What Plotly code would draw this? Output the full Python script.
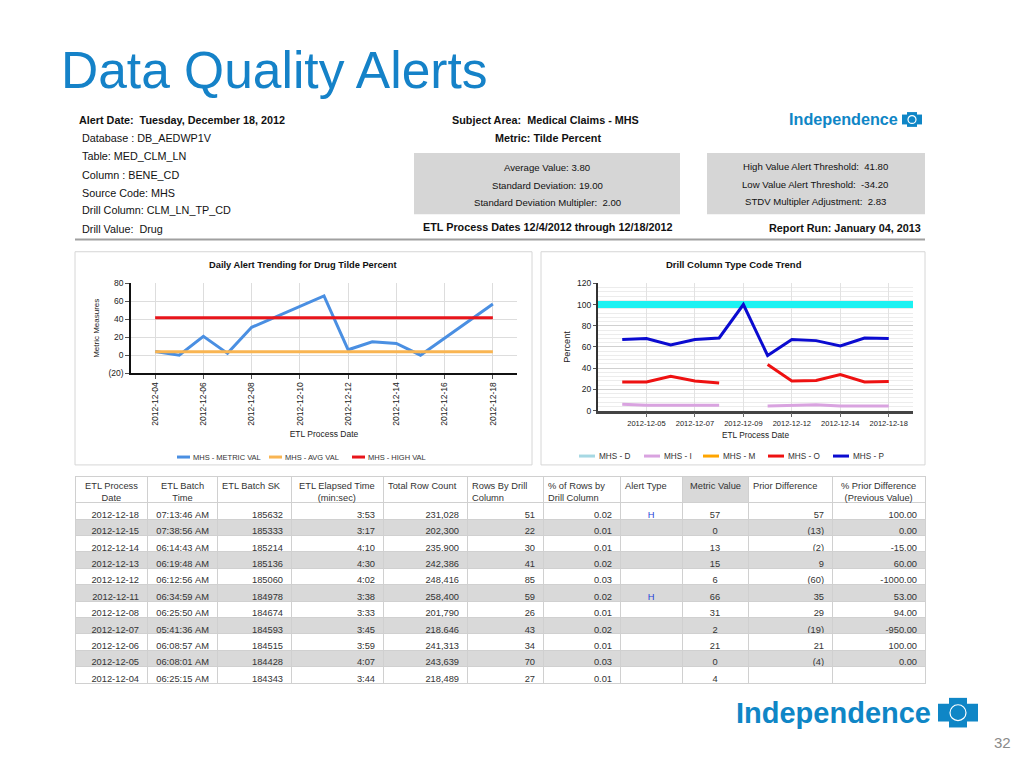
import plotly.graph_objects as go

W, H = 1024, 768
FONT = "Liberation Sans, Arial, Helvetica, sans-serif"


def px(x):
    return x / W


def py(y):
    return 1 - y / H


# ---------------- data ----------------
# Daily alert trending (left chart)
trend_dates = ["2012-12-04", "2012-12-05", "2012-12-06", "2012-12-07", "2012-12-08",
               "2012-12-11", "2012-12-12", "2012-12-13", "2012-12-14", "2012-12-15",
               "2012-12-18"]
trend_metric = [4, 0, 21, 2, 31, 66, 6, 15, 13, 0, 57]
avg_value = 3.80
high_value = 41.80
left_tick_dates = ["2012-12-04", "2012-12-06", "2012-12-08", "2012-12-10",
                   "2012-12-12", "2012-12-14", "2012-12-16", "2012-12-18"]
left_y_ticks = [-20, 0, 20, 40, 60, 80]
left_y_ticktext = ["(20)", "0", "20", "40", "60", "80"]

# Drill column type code trend (right chart, one slot per process date)
drill_dates = ["2012-12-04", "2012-12-05", "2012-12-06", "2012-12-07", "2012-12-08",
               "2012-12-09", "2012-12-11", "2012-12-12", "2012-12-13", "2012-12-14",
               "2012-12-15", "2012-12-18"]
drill_P = [67, 68, 62, 67, 68.5, 100, 52, 67, 66, 61, 68.5, 68]
drill_O = [27, 27, 32.5, 28, 26, None, 43.5, 28, 28.5, 34, 27, 27.5]
drill_I = [6, 5, 5, 4.7, 5, None, 4.4, 5, 5.5, 4.4, 4.4, 4.4]
drill_D_level = 100
drill_tick_dates = ["2012-12-05", "2012-12-07", "2012-12-09", "2012-12-12",
                    "2012-12-14", "2012-12-18"]

# Table
table_dates = ["2012-12-18", "2012-12-15", "2012-12-14", "2012-12-13", "2012-12-12",
               "2012-12-11", "2012-12-08", "2012-12-07", "2012-12-06", "2012-12-05",
               "2012-12-04"]
batch_times = ["07:13:46 AM", "07:38:56 AM", "06:14:43 AM", "06:19:48 AM", "06:12:56 AM",
               "06:34:59 AM", "06:25:50 AM", "05:41:36 AM", "06:08:57 AM", "06:08:01 AM",
               "06:25:15 AM"]
batch_sk = [185632, 185333, 185214, 185136, 185060, 184978, 184674, 184593, 184515,
            184428, 184343]
elapsed = ["3:53", "3:17", "4:10", "4:30", "4:02", "3:38", "3:33", "3:45", "3:59",
           "4:07", "3:44"]
total_rows = [231028, 202300, 235900, 242386, 248416, 258400, 201790, 218646, 241313,
              243639, 218489]
rows_by_drill = [51, 22, 30, 41, 85, 59, 26, 43, 34, 70, 27]
pct_rows = [0.02, 0.01, 0.01, 0.02, 0.03, 0.02, 0.01, 0.02, 0.01, 0.03, 0.01]
alert_type = ["H", "", "", "", "", "H", "", "", "", "", ""]
metric_value = [57, 0, 13, 15, 6, 66, 31, 2, 21, 0, 4]
prior_diff = [57, -13, -2, 9, -60, 35, 29, -19, 21, -4, None]
pct_prior_diff = [100.00, 0.00, -15.00, 60.00, -1000.00, 53.00, 94.00, -950.00, 100.00,
                  0.00, None]

header_labels = ["ETL Process<br>Date", "ETL Batch<br>Time", "ETL Batch SK",
                 "ETL Elapsed Time<br>(min:sec)", "Total Row Count", "Rows By Drill<br>Column",
                 "% of Rows by<br>Drill Column", "Alert Type", "Metric Value",
                 "Prior Difference", "% Prior Difference<br>(Previous Value)"]

# Header text block
info_left = ["Database : DB_AEDWP1V", "Table: MED_CLM_LN", "Column : BENE_CD",
             "Source Code: MHS", "Drill Column: CLM_LN_TP_CD", "Drill Value:\u00a0 Drug"]
alert_date_text = "Alert Date:\u00a0 Tuesday, December 18, 2012"
subject_text = "Subject Area:\u00a0 Medical Claims - MHS"
metric_text = "Metric: Tilde Percent"
stats_mid = ["Average Value: 3.80", "Standard Deviation: 19.00",
             "Standard Deviation Multipler:\u00a0 2.00"]
stats_right = ["High Value Alert Threshold:\u00a0 41.80", "Low Value Alert Threshold:\u00a0 -34.20",
               "STDV Multipler Adjustment:\u00a0 2.83"]
etl_dates_text = "ETL Process Dates 12/4/2012 through 12/18/2012"
report_run_text = "Report Run: January 04, 2013"

# series styling (name, colour) -- also used for the legends
left_series = [("MHS - METRIC VAL", "#4a8fe2"), ("MHS - AVG VAL", "#f9b552"),
               ("MHS - HIGH VAL", "#e8151b")]
right_series = [("MHS - D", "#a6d8e3"), ("MHS - I", "#d9a3e0"), ("MHS - M", "#ffa500"),
                ("MHS - O", "#ee1111"), ("MHS - P", "#0b0bd0")]

# ---------------- formatting ----------------
def paren(v):
    if v is None:
        return ""
    return f"({abs(v)})" if v < 0 else f"{v}"


def pct2(v):
    return "" if v is None else f"{v:.2f}"


col_widths = [72, 70, 74, 92, 84, 76, 77, 62, 66, 84, 93]
n_rows = len(table_dates)
row_colors = ["#ffffff" if i % 2 == 0 else "#d9d9d9" for i in range(n_rows)]
NB = "\u00a0"

cell_values = [
    table_dates,
    [t.replace(" ", NB) for t in batch_times],
    [str(v) for v in batch_sk],
    elapsed,
    [f"{v:,}" for v in total_rows],
    [str(v) for v in rows_by_drill],
    [f"{v:.2f}" for v in pct_rows],
    alert_type,
    [str(v) for v in metric_value],
    [paren(v) for v in prior_diff],
    [pct2(v) for v in pct_prior_diff],
]
cell_align = ["right", "right", "right", "right", "right", "right", "right",
              "center", "center", "right", "right"]
cell_font_colors = ["#333333"] * 7 + ["#1f3fd8"] + ["#333333"] * 3
header_fill = ["#ffffff"] * 8 + ["#d9d9d9"] + ["#ffffff"] * 2
header_align = ["center", "center", "left", "center", "left", "left", "left", "left",
                "center", "left", "center"]

# drill chart slot positions (date slots on a linear axis)
drill_x = list(range(len(drill_dates)))
drill_range = [-1, len(drill_dates)]
drill_tickvals = [drill_dates.index(d) for d in drill_tick_dates]

# ---------------- figure ----------------
fig = go.Figure()
lc = dict(left_series)
rc = dict(right_series)

# left chart
fig.add_trace(go.Scatter(x=trend_dates, y=trend_metric, mode="lines", name="MHS - METRIC VAL",
                         line=dict(color=lc["MHS - METRIC VAL"], width=3),
                         xaxis="x", yaxis="y", showlegend=False))
fig.add_trace(go.Scatter(x=[trend_dates[0], trend_dates[-1]], y=[avg_value, avg_value],
                         mode="lines", name="MHS - AVG VAL",
                         line=dict(color=lc["MHS - AVG VAL"], width=3),
                         xaxis="x", yaxis="y", showlegend=False))
fig.add_trace(go.Scatter(x=[trend_dates[0], trend_dates[-1]], y=[high_value, high_value],
                         mode="lines", name="MHS - HIGH VAL",
                         line=dict(color=lc["MHS - HIGH VAL"], width=3),
                         xaxis="x", yaxis="y", showlegend=False))

# right chart
fig.add_trace(go.Scatter(x=drill_range, y=[drill_D_level, drill_D_level], mode="lines",
                         name="MHS - D band", line=dict(color="#1cf2f2", width=7),
                         xaxis="x2", yaxis="y2", showlegend=False, cliponaxis=True))
fig.add_trace(go.Scatter(x=drill_x, y=drill_I, mode="lines", name="MHS - I",
                         line=dict(color=rc["MHS - I"], width=3), xaxis="x2", yaxis="y2",
                         connectgaps=False, showlegend=False))
fig.add_trace(go.Scatter(x=drill_x, y=drill_O, mode="lines", name="MHS - O",
                         line=dict(color=rc["MHS - O"], width=3), xaxis="x2", yaxis="y2",
                         connectgaps=False, showlegend=False))
fig.add_trace(go.Scatter(x=drill_x, y=drill_P, mode="lines", name="MHS - P",
                         line=dict(color=rc["MHS - P"], width=3), xaxis="x2", yaxis="y2",
                         showlegend=False))

# table
fig.add_trace(go.Table(
    domain=dict(x=[px(75), px(925)], y=[0.08, py(478)]),
    columnwidth=col_widths,
    header=dict(values=[""] * len(col_widths), height=26,
                fill=dict(color=header_fill),
                line=dict(color="#d0d0d0", width=1)),
    cells=dict(values=cell_values, height=16.4, align=cell_align,
               fill=dict(color=[row_colors] * len(col_widths)),
               line=dict(color="#d0d0d0", width=1),
               font=dict(family=FONT, size=9.3, color=cell_font_colors)),
))

axis_font = dict(family=FONT, size=8.5, color="#222222")

fig.update_layout(
    width=W, height=H,
    margin=dict(l=0, r=0, t=0, b=0),
    paper_bgcolor="white", plot_bgcolor="white",
    font=dict(family=FONT, color="#222222"),
    showlegend=False,
    xaxis=dict(domain=[px(131), px(517)], anchor="y", type="date",
               range=["2012-12-03", "2012-12-19"],
               tickmode="array", tickvals=left_tick_dates, ticktext=left_tick_dates,
               tickangle=-90, tickfont=axis_font,
               showgrid=True, gridcolor="#dddddd", gridwidth=1,
               showline=True, linecolor="#111111", linewidth=1.5,
               ticks="outside", ticklen=4, tickcolor="#555555",
               zeroline=False,
               title=dict(text="ETL Process Date", font=dict(family=FONT, size=8.5),
                          standoff=6)),
    yaxis=dict(domain=[py(373), py(282)], anchor="x", range=[-20, 80],
               tickmode="array", tickvals=left_y_ticks, ticktext=left_y_ticktext,
               tickfont=axis_font,
               showgrid=True, gridcolor="#dddddd", gridwidth=1,
               showline=True, linecolor="#111111", linewidth=1.5,
               ticks="outside", ticklen=4, tickcolor="#555555",
               zeroline=False,
               title=dict(text="Metric Measures", font=dict(family=FONT, size=8),
                          standoff=8)),
    xaxis2=dict(domain=[px(598), px(913)], anchor="y2", type="linear",
                range=drill_range,
                tickmode="array", tickvals=drill_tickvals, ticktext=drill_tick_dates,
                tickangle=0, tickfont=dict(family=FONT, size=7.5, color="#222222"),
                showgrid=True, gridcolor="#e2e2e2", gridwidth=1,
                showline=True, linecolor="#444444", linewidth=2.5,
                ticks="outside", ticklen=4, tickcolor="#666666",
                zeroline=False,
                title=dict(text="ETL Process Date", font=dict(family=FONT, size=8.3),
                           standoff=5)),
    yaxis2=dict(domain=[py(411), py(282)], anchor="x2", range=[0, 120],
                dtick=20, tickfont=dict(family=FONT, size=8.5, color="#222222"),
                showgrid=True, gridcolor="#d0d0d0", gridwidth=1,
                minor=dict(dtick=4, showgrid=True, gridcolor="#ececec", gridwidth=1),
                showline=True, linecolor="#333333", linewidth=2,
                ticks="outside", ticklen=3, tickcolor="#555555",
                zeroline=False,
                title=dict(text="Percent", font=dict(family=FONT, size=9.2), standoff=5)),
)

# ---------------- shapes ----------------
LOGO = "#0f86c6"
shapes = [
    # panel borders
    dict(type="rect", xref="paper", yref="paper", x0=px(75), x1=px(532), y0=py(466), y1=py(250),
         line=dict(color="#d6d6d6", width=1), fillcolor="rgba(0,0,0,0)", layer="below"),
    dict(type="rect", xref="paper", yref="paper", x0=px(541), x1=px(925), y0=py(466), y1=py(250),
         line=dict(color="#d6d6d6", width=1), fillcolor="rgba(0,0,0,0)", layer="below"),
    # gray stat boxes
    dict(type="rect", xref="paper", yref="paper", x0=px(414), x1=px(680), y0=py(212), y1=py(150),
         line=dict(width=0), fillcolor="#d6d6d6", layer="below"),
    dict(type="rect", xref="paper", yref="paper", x0=px(707), x1=px(925), y0=py(212), y1=py(150),
         line=dict(width=0), fillcolor="#d6d6d6", layer="below"),
    # header separator
    dict(type="line", xref="paper", yref="paper", x0=px(75), x1=px(925), y0=py(237.5), y1=py(237.5),
         line=dict(color="#a0a0a0", width=2)),
]


def cross(cx, cy, arm, thick, r):
    return [
        dict(type="rect", xref="paper", yref="paper", x0=px(cx - arm), x1=px(cx + arm),
             y0=py(cy + thick), y1=py(cy - thick), line=dict(width=0), fillcolor=LOGO),
        dict(type="rect", xref="paper", yref="paper", x0=px(cx - thick), x1=px(cx + thick),
             y0=py(cy + arm * 0.75), y1=py(cy - arm * 0.75), line=dict(width=0),
             fillcolor=LOGO),
        dict(type="circle", xref="paper", yref="paper", x0=px(cx - r), x1=px(cx + r),
             y0=py(cy + r), y1=py(cy - r), line=dict(color="white", width=1.2),
             fillcolor="rgba(0,0,0,0)"),
    ]


shapes += cross(912, 116, 10, 5, 4)
shapes += cross(958, 717, 20, 9, 8)

# ---------------- annotations ----------------
ann = []


def txt(x, y, text, size=10.8, xanchor="left", color="#111111", yanchor="middle"):
    ann.append(dict(x=px(x), y=py(y), xref="paper", yref="paper", text=text,
                    showarrow=False, xanchor=xanchor, yanchor=yanchor,
                    align="center" if xanchor == "center" else xanchor,
                    font=dict(family=FONT, size=size, color=color)))


# chart legends (swatch + label)
left_legend_x = [177, 269, 352]
right_legend_x = [579, 644, 703, 768, 833]
for (name, col), x0 in zip(left_series, left_legend_x):
    shapes.append(dict(type="line", xref="paper", yref="paper", x0=px(x0), x1=px(x0 + 13),
                       y0=py(458), y1=py(458), line=dict(color=col, width=3)))
    txt(x0 + 14, 458, name, size=7.5, color="#333333")
for (name, col), x0 in zip(right_series, right_legend_x):
    shapes.append(dict(type="line", xref="paper", yref="paper", x0=px(x0), x1=px(x0 + 16),
                       y0=py(457), y1=py(457), line=dict(color=col, width=3)))
    txt(x0 + 18, 457, name, size=8.2, color="#333333")

fig.update_layout(shapes=shapes)

txt(59, 66, "Data Quality Alerts", size=51.5, color="#1582c8")

txt(77, 117, f"<b>{alert_date_text}</b>")
for i, line in enumerate(info_left):
    txt(80, [135, 153, 172, 190, 208, 227][i], line)

txt(545, 117, f"<b>{subject_text}</b>", xanchor="center")
txt(548, 135, f"<b>{metric_text}</b>", xanchor="center")
for i, line in enumerate(stats_mid):
    txt(547, [165, 183, 200][i], line, size=9.6, xanchor="center")
for i, line in enumerate(stats_right):
    txt(815, [164, 182, 199][i], line, size=9.6, xanchor="center")
txt(547, 225, f"<b>{etl_dates_text}</b>", xanchor="center")
txt(923, 226, f"<b>{report_run_text}</b>", xanchor="right")

txt(787, 115, "<b>Independence</b>", size=16.2, color=LOGO)
txt(734, 717, "<b>Independence</b>", size=29, color=LOGO)
txt(1013, 747, "32", size=15, color="#8a8a8a", xanchor="right")

# chart titles
txt(303, 263, "<b>Daily Alert Trending for Drug Tilde Percent</b>", size=9.3, xanchor="center")
txt(734, 263, "<b>Drill Column Type Code Trend</b>", size=9.5, xanchor="center")

# table header labels
left = 75
for w, lab, al in zip(col_widths, header_labels, header_align):
    xx = left + w / 2 if al == "center" else left + 3
    ann.append(dict(x=px(xx), y=py(480), xref="paper", yref="paper", text=lab,
                    showarrow=False, xanchor=al, yanchor="top", align=al,
                    font=dict(family=FONT, size=9.3, color="#333333")))
    left += w

fig.update_layout(annotations=ann)

fig.write_html("out.html",
               config={"displayModeBar": False},
               post_script="document.body.style.margin='0';document.body.style.overflow='hidden';")
